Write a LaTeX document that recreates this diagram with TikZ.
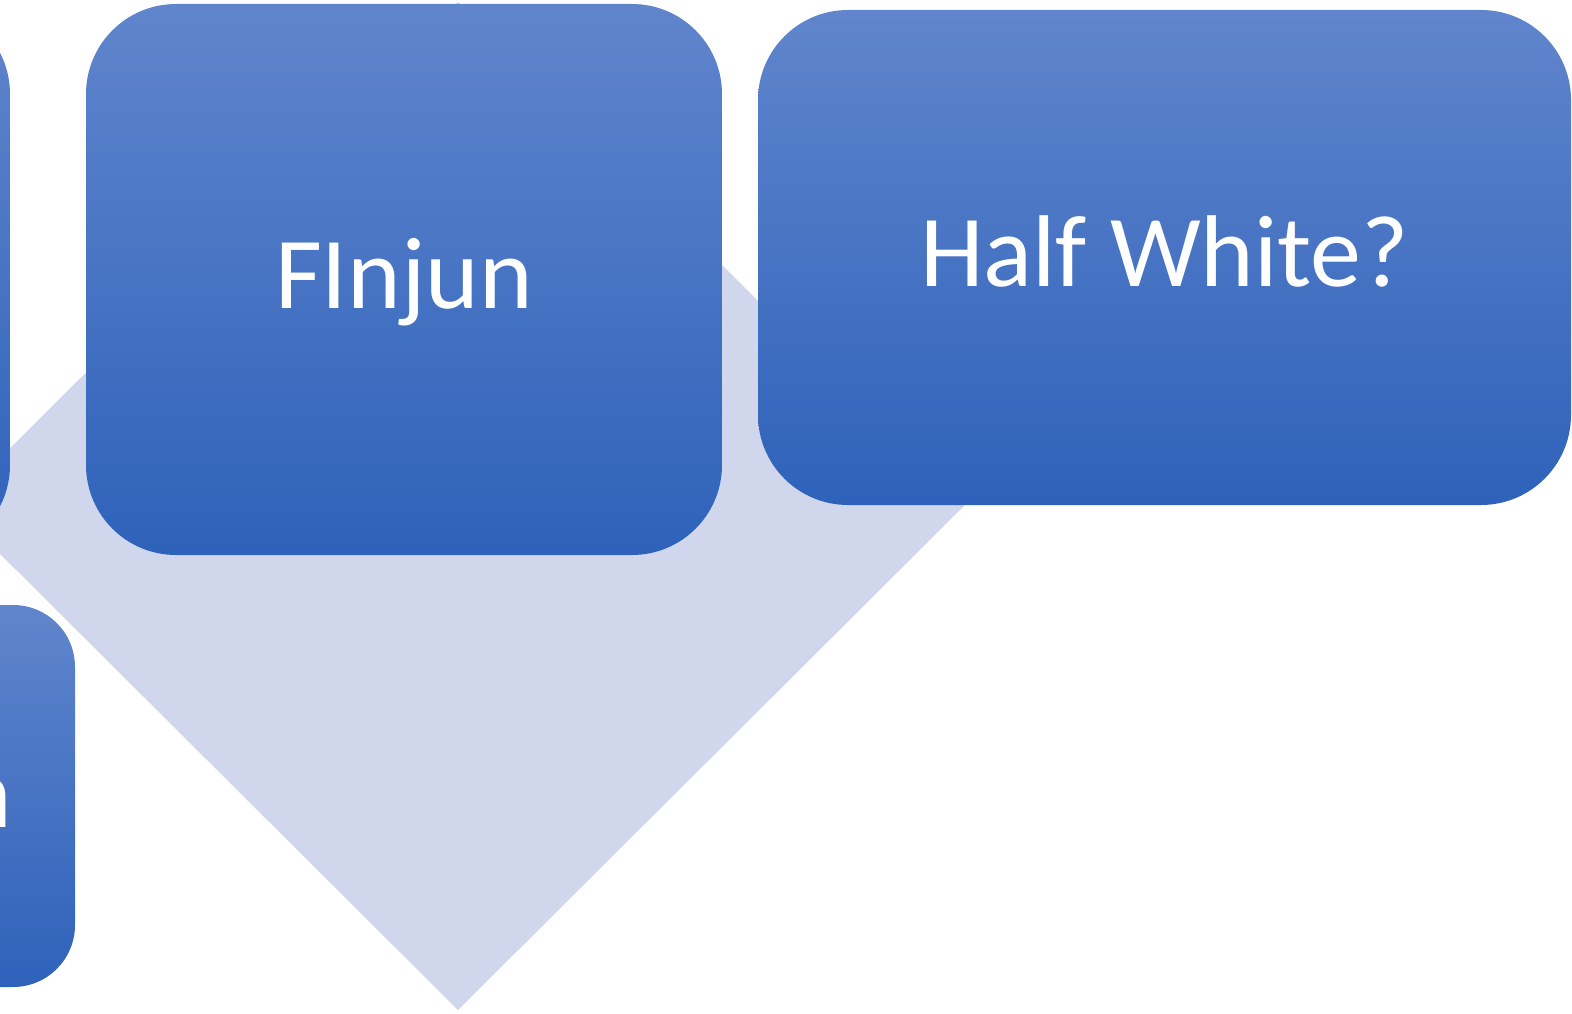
\documentclass[tikz,border=0pt]{standalone}
\usepackage{fontspec}
\setmainfont{Carlito}
\usepackage{tikz}
\usetikzlibrary{positioning,calc}
\definecolor{boxtop}{RGB}{96,133,204}
\definecolor{boxbot}{RGB}{46,98,186}
\definecolor{lav}{RGB}{208,214,235}
\tikzstyle{scheda} = [rectangle, rounded corners=90pt, top color=boxtop, bottom color=boxbot, draw=none, text=white, inner sep=0pt, text height=65pt, text depth=7pt, font=\fontsize{102}{114}\selectfont]
\tikzstyle{schedina} = [scheda, rounded corners=62pt]

\begin{document}
\begin{tikzpicture}[x=1pt,y=-1pt]
\useasboundingbox (0,0) rectangle (1572,1014);
\clip (0,0) rectangle (1572,1014);
% sfondo a rombo
\fill[lav] (458,2) -- (964,506) -- (458,1010) -- (-48,506) -- cycle;
% schede
\node (prima) at (-308,279.5) [scheda, minimum width=636pt, minimum height=551pt] {};
\node (finjun) at (404,279.5) [scheda, minimum width=636pt, minimum height=551pt] {FInjun};
\node (half) at (1164.5,257.5) [scheda, minimum width=813pt, minimum height=495pt] {Half White?};
\node (ultima) at (-162.5,796) [schedina, minimum width=475pt, minimum height=382pt] {};
\node[anchor=base east, inner sep=0pt, text=white, font=\fontsize{102}{114}\selectfont] (coda) at (12,827) {n};
\end{tikzpicture}
\end{document}
